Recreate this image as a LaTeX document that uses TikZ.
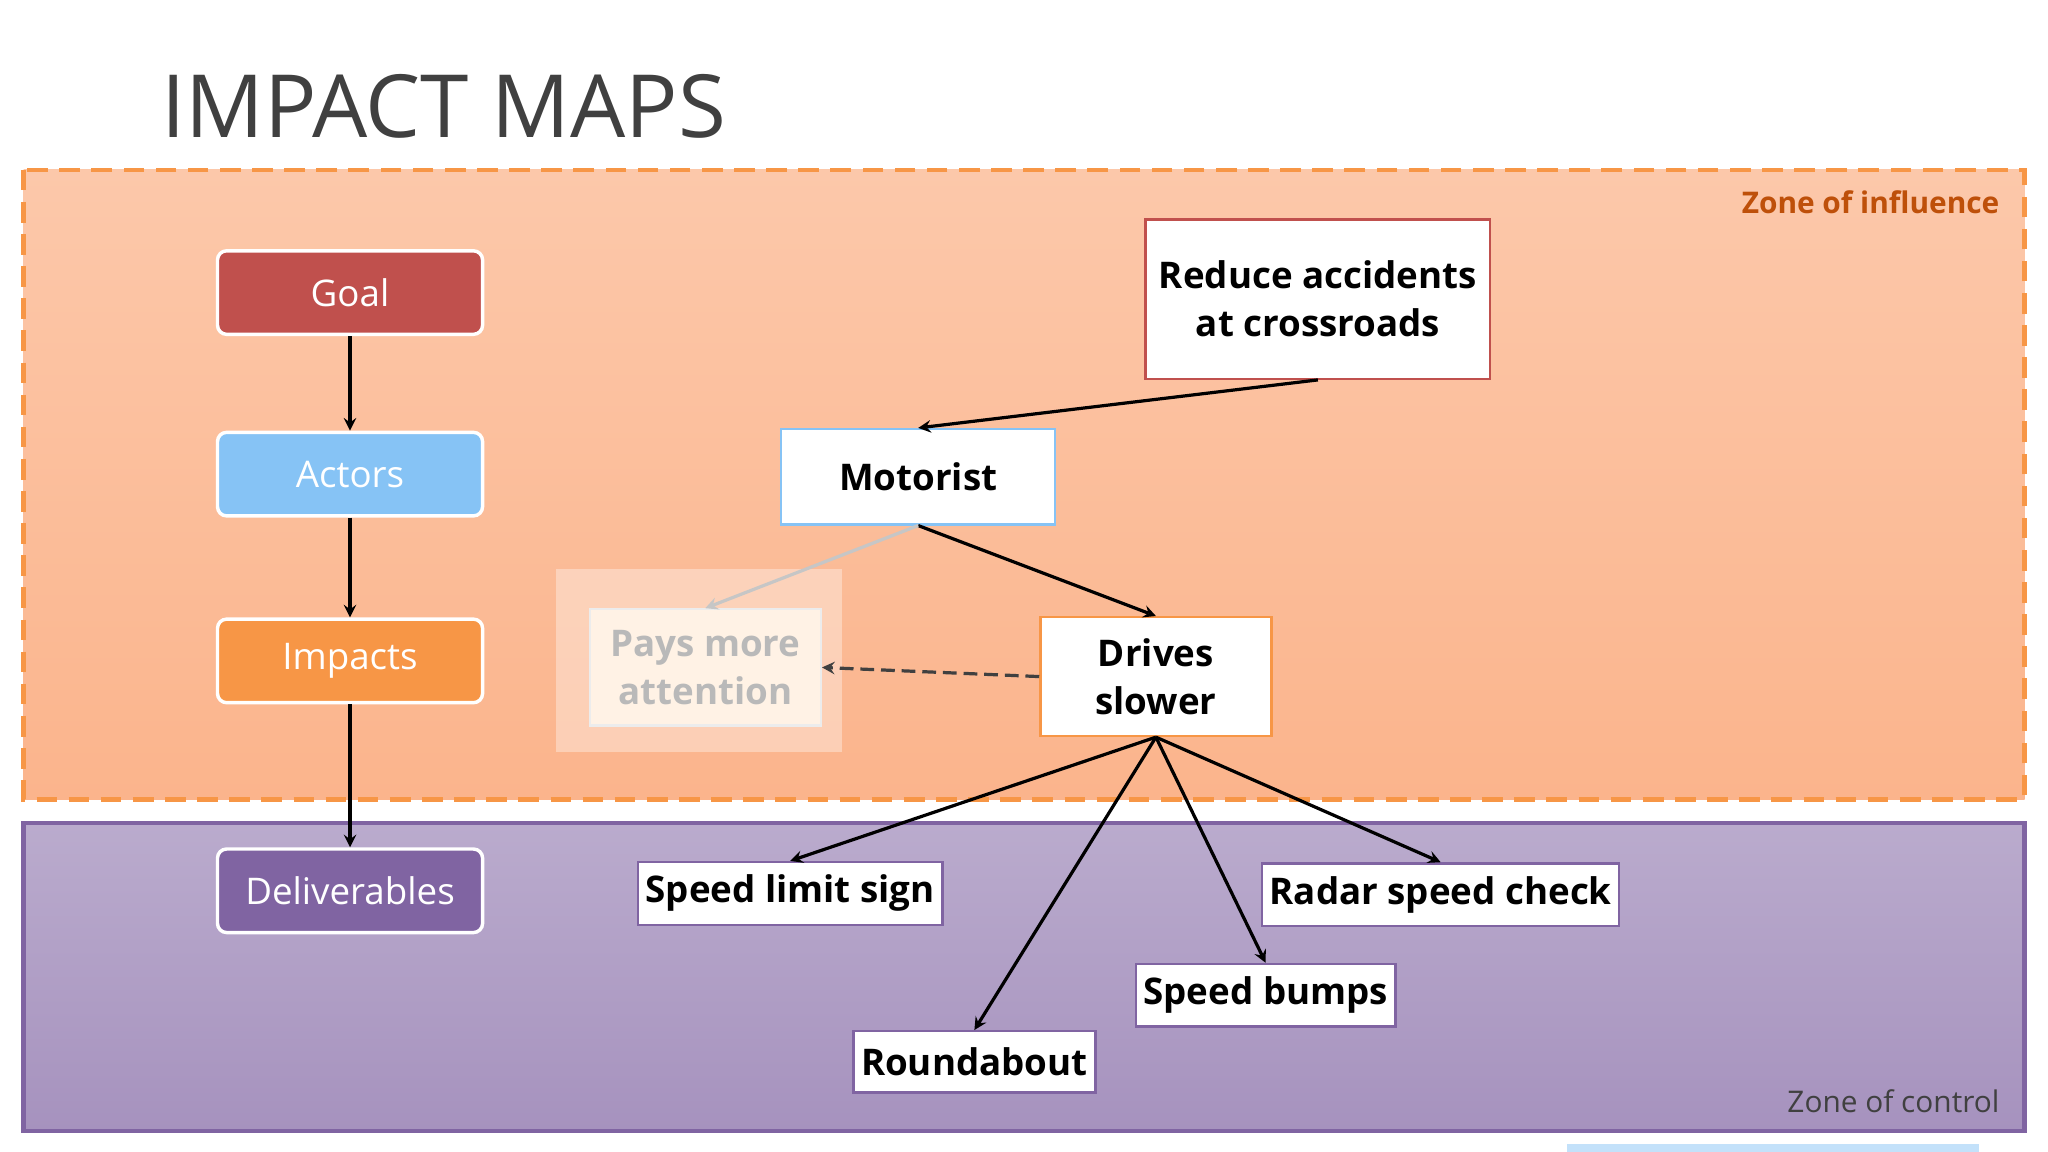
\documentclass[tikz,border=0pt]{standalone}
\usepackage{fontspec}
\setmainfont{Open Sans}
\usetikzlibrary{positioning}
\definecolor{goalred}{HTML}{C0504D}
\definecolor{actorblue}{HTML}{86C3F5}
\definecolor{impactorange}{HTML}{F79646}
\definecolor{delivpurple}{HTML}{8064A2}
\definecolor{titlegray}{HTML}{404040}
\begin{document}
\begin{tikzpicture}[
	x=0.02cm, y=-0.02cm,
	legend/.style={draw=white, line width=1.5pt, rounded corners=4pt, minimum width=4.06cm, minimum height=1.28cm, text=white, font=\fontsize{16}{18}\selectfont},
	card/.style={draw, line width=1pt, fill=white, align=center, font=\fontsize{16}{21}\selectfont\bfseries},
	connect/.style={->, line width=1.4pt},
	>=stealth
	]
	
	%-----------------------
	% Frame and zones
	%-----------------------
	\useasboundingbox[fill=white] (0,0) rectangle (1568,882);
	\node[anchor=base west, text=titlegray, font=\fontsize{38}{40}\selectfont, inner sep=0pt] (title) at (123,105) {IMPACT MAPS};
	
	\shade[top color={rgb,255:red,252;green,200;blue,170}, bottom color={rgb,255:red,251;green,180;blue,140}] (18,130) rectangle (1550,612);
	\draw[impactorange, line width=2pt, dash pattern=on 9pt off 5pt] (18,130) rectangle (1550,612);
	\shade[top color={rgb,255:red,186;green,171;blue,205}, bottom color={rgb,255:red,166;green,146;blue,190}] (18,630) rectangle (1550,866);
	\draw[delivpurple, line width=2pt] (18,630) rectangle (1550,866);
	\fill[actorblue!50] (1200,876) rectangle (1515,882);
	
	\node[anchor=east, text={rgb,255:red,190;green,80;blue,10}, font=\fontsize{13}{15}\selectfont\bfseries] (influence) at (1537,155) {Zone of influence};
	\node[anchor=east, text=titlegray, font=\fontsize{13}{15}\selectfont] (control) at (1537,843) {Zone of control};
	
	%-----------------------
	% Legend column
	%-----------------------
	\node[legend, fill=goalred] (goal) at (268,224) {Goal};
	\node[legend, fill=actorblue] (actors) at (268,363) {Actors};
	\node[legend, fill=impactorange] (impacts) at (268,506) {Impacts};
	\node[legend, fill=delivpurple] (deliverables) at (268,682) {Deliverables};
	
	\draw[connect] (goal) -- (actors);
	\draw[connect] (actors) -- (impacts);
	\draw[connect] (impacts) -- (deliverables);
	
	%-----------------------
	% Map
	%-----------------------
	\node[card, draw=goalred, minimum width=5.28cm, minimum height=2.44cm] (reduce) at (1009,229) {Reduce accidents\\at crossroads};
	\node[card, draw=actorblue, minimum width=4.2cm, minimum height=1.46cm] (motorist) at (703,365) {Motorist};
	\node[card, draw=impactorange, minimum width=3.54cm, minimum height=1.82cm] (drives) at (885,518) {Drives\\slower};
	
	% faded impact
	\fill[white, opacity=0.35] (426,436) rectangle (645,576);
	\node[card, draw=white!85!gray, fill=white!90!orange, text=gray!55, minimum width=3.54cm, minimum height=1.78cm] (attention) at (540,511) {Pays more\\attention};
	
	\node[card, draw=delivpurple, minimum width=4.16cm, minimum height=0.96cm] (sign) at (605,684) {Speed limit sign};
	\node[card, draw=delivpurple, minimum width=3.42cm, minimum height=0.94cm] (roundabout) at (746,813) {Roundabout};
	\node[card, draw=delivpurple, minimum width=3.62cm, minimum height=0.96cm] (bumps) at (969,762) {Speed bumps};
	\node[card, draw=delivpurple, minimum width=4.78cm, minimum height=0.96cm] (radar) at (1103,685) {Radar speed check};
	
	\draw[connect] (reduce.south) -- (motorist.north);
	\draw[connect] (motorist.south) -- (drives.north);
	\draw[->, line width=1.4pt, gray!45] (motorist.south) -- (attention.north);
	\draw[->, line width=1.4pt, dash pattern=on 6pt off 3pt, black!75] (drives.west) -- (attention.east);
	
	\draw[connect] (drives.south) -- (sign.north);
	\draw[connect] (drives.south) -- (roundabout.north);
	\draw[connect] (drives.south) -- (bumps.north);
	\draw[connect] (drives.south) -- (radar.north);
	
\end{tikzpicture}
\end{document}
